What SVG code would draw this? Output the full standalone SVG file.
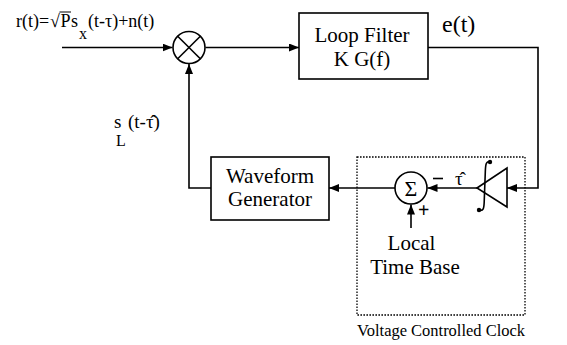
<svg xmlns="http://www.w3.org/2000/svg" width="567" height="345" viewBox="0 0 567 345">
<style>
.ln{fill:none;stroke:#000;stroke-width:1.6}
.box{fill:#fff;stroke:#000;stroke-width:1.6}
text{font-family:'Liberation Serif','Times New Roman',Times,serif;fill:#000}
.c{text-anchor:middle}
.dot{fill:none;stroke:#000;stroke-width:1.3;stroke-dasharray:1.6 1.4}
</style>
<defs>
<marker id="ar" markerUnits="userSpaceOnUse" markerWidth="10" markerHeight="8" refX="10" refY="4" orient="auto">
<path d="M0,0 L10,4 L0,8 z" fill="#000"/>
</marker>
</defs>
<rect width="567" height="345" fill="#fff"/>
<g id="vcc-boundary">
<rect class="dot" x="357" y="157" width="168" height="158"/>
<text x="357" y="336" font-size="17" textLength="168" lengthAdjust="spacingAndGlyphs">Voltage Controlled Clock</text>
</g>
<g id="connectors">
<path class="ln" d="M62,47.5 H172.5" marker-end="url(#ar)"/>
<path class="ln" d="M205.5,47.5 H299" marker-end="url(#ar)"/>
<path class="ln" d="M428,47.5 H538 V188 H507" marker-end="url(#ar)"/>
<path class="ln" d="M477,188 H427.5" marker-end="url(#ar)"/>
<path class="ln" d="M395,188 H329" marker-end="url(#ar)"/>
<path class="ln" d="M211,188 H189 V64" marker-end="url(#ar)"/>
<path class="ln" d="M411,228 V204.5" marker-end="url(#ar)"/>
</g>
<g id="input-label">
<line x1="59.5" y1="12" x2="71" y2="12" stroke="#000" stroke-width="1"/>
<text font-size="18" x="16" y="27">r(t)=<tspan x="50">√</tspan><tspan x="60.5">P</tspan><tspan x="71">s</tspan><tspan font-size="16" x="79" dy="12">x</tspan><tspan x="88" dy="-12">(t-τ)+n(t)</tspan></text>
</g>
<g id="multiplier">
<circle class="box" cx="189" cy="47.5" r="16"/>
<line class="ln" x1="177.7" y1="36.2" x2="200.3" y2="58.8"/>
<line class="ln" x1="200.3" y1="36.2" x2="177.7" y2="58.8"/>
</g>
<g id="loop-filter">
<rect class="box" x="299" y="13" width="129" height="66"/>
<text class="c" font-size="21" x="362" y="42">Loop Filter</text>
<text class="c" font-size="21" x="362" y="66">K G(f)</text>
</g>
<g id="error-label">
<text font-size="24" x="442" y="32">e(t)</text>
</g>
<g id="feedback-label">
<text font-size="19" x="114" y="128">s<tspan font-size="16" x="116" dy="18">L</tspan><tspan x="128" dy="-18">(t-τ̂)</tspan></text>
</g>
<g id="waveform-generator">
<rect class="box" x="211" y="157" width="118" height="63"/>
<text class="c" font-size="21" x="270" y="183">Waveform</text>
<text class="c" font-size="21" x="270" y="206">Generator</text>
</g>
<g id="summer">
<circle class="box" cx="411" cy="188" r="16"/>
<text class="c" font-size="22" x="411" y="196">Σ</text>
<text font-size="20" font-weight="bold" x="418" y="217">+</text>
<line x1="433" y1="178.5" x2="443" y2="178.5" stroke="#000" stroke-width="1.6"/>
</g>
<g id="tau-hat-label">
<text font-size="19" x="455" y="185">τ̂</text>
</g>
<g id="local-time-base">
<text class="c" font-size="21" x="411.5" y="250">Local</text>
<text class="c" font-size="21" x="415" y="274">Time Base</text>
</g>
<g id="integrator">
<polygon class="box" points="477,188 507,168 507,207"/>
<path class="ln" d="M490,162 C486,160.5 485.5,165 485.3,172 L484.2,202 C484,208 483.5,211.5 479,210"/>
<circle cx="490" cy="162" r="2.2" fill="#000"/>
<circle cx="479" cy="210" r="2.2" fill="#000"/>
</g>
</svg>
